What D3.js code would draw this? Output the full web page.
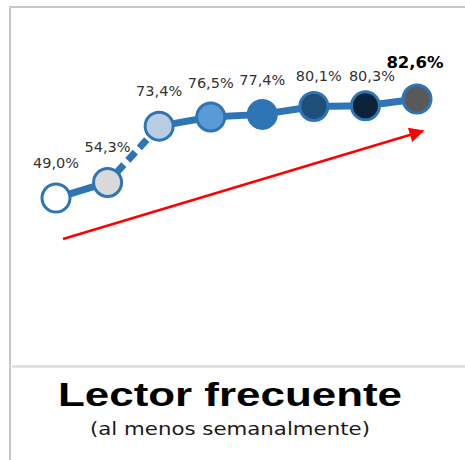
<!DOCTYPE html>
<html lang="es">
<head>
<meta charset="utf-8">
<script src="https://cdn.jsdelivr.net/npm/d3@7"></script>
<style>
  html, body { margin: 0; padding: 0; background: #fff; }
  svg { display: block; }
</style>
</head>
<body>
<div id="chart"></div>
<script>
// Share of frequent readers (at least weekly), one point per survey wave
const waves = ["W1", "W2", "W3", "W4", "W5", "W6", "W7", "W8"];
const share = [49.0, 54.3, 73.4, 76.5, 77.4, 80.1, 80.3, 82.6];
const valueLabels = ["49,0%", "54,3%", "73,4%", "76,5%", "77,4%", "80,1%", "80,3%", "82,6%"];
const titleText = "Lector frecuente";
const subtitleText = "(al menos semanalmente)";

// Marker fills, from empty to darkest, last one grey
const fills = ["#ffffff", "#d9d9d9", "#b8cce4", "#5b9bd5", "#2e75b6", "#1f4e79", "#0c2238", "#595959"];
// Small nudges for labels that would otherwise crowd each other
const labelNudge = [[0, -30], [0, -30], [0, -30], [0, -29], [0, -29.5], [5, -25], [6.5, -25], [-2, -31]];

const W = 465, H = 460;
const blue = "#2e75b6";

const svg = d3.select("#chart").append("svg")
  .attr("width", W).attr("height", H);

// Frame lines
svg.append("line").attr("x1", 10).attr("x2", W).attr("y1", 7).attr("y2", 7)
  .attr("stroke", "#c8c8c8").attr("stroke-width", 2);
svg.append("line").attr("x1", 10).attr("x2", 10).attr("y1", 6).attr("y2", H)
  .attr("stroke", "#c8c8c8").attr("stroke-width", 2);
svg.append("line").attr("x1", 12).attr("x2", W).attr("y1", 366.5).attr("y2", 366.5)
  .attr("stroke", "#dcdcdc").attr("stroke-width", 2.5);

const x = d3.scalePoint().domain(waves).range([56, 417]);
const y = d3.scaleLinear().domain([0, 100]).range([342.4, 47.8]);

const pts = waves.map((w, i) => ({ w, v: share[i], i }));

// Trend arrow
const defs = svg.append("defs");
defs.append("marker")
  .attr("id", "arrowHead")
  .attr("viewBox", "0 0 10 10")
  .attr("refX", 9).attr("refY", 5)
  .attr("markerUnits", "userSpaceOnUse")
  .attr("markerWidth", 17).attr("markerHeight", 15)
  .attr("orient", "auto")
  .append("path").attr("d", "M0,0 L10,5 L0,10 Z").attr("fill", "#ff0000");

svg.append("line")
  .attr("x1", 63).attr("y1", 239)
  .attr("x2", 423).attr("y2", 131)
  .attr("stroke", "#ff0000").attr("stroke-width", 2.5)
  .attr("marker-end", "url(#arrowHead)");

// Connecting segments; the jump between the 2nd and 3rd wave is dashed
const segs = d3.pairs(pts);
svg.append("g").selectAll("line").data(segs).join("line")
  .attr("x1", d => x(d[0].w)).attr("y1", d => y(d[0].v))
  .attr("x2", d => x(d[1].w)).attr("y2", d => y(d[1].v))
  .attr("stroke", blue)
  .attr("stroke-width", 7)
  .attr("stroke-dasharray", d => d[0].i === 1 ? "11,6" : null)
  .attr("stroke-dashoffset", d => d[0].i === 1 ? 4 : null);

// Markers
svg.append("g").selectAll("circle").data(pts).join("circle")
  .attr("cx", d => x(d.w)).attr("cy", d => y(d.v))
  .attr("r", 14)
  .attr("fill", d => fills[d.i])
  .attr("stroke", blue)
  .attr("stroke-width", 3);

// Value labels
svg.append("g").selectAll("text").data(pts).join("text")
  .attr("x", d => x(d.w) + labelNudge[d.i][0])
  .attr("y", d => y(d.v) + labelNudge[d.i][1])
  .attr("text-anchor", "middle")
  .attr("font-family", "'DejaVu Sans', Verdana, sans-serif")
  .attr("font-size", d => d.i === pts.length - 1 ? 16.5 : 14.5)
  .attr("font-weight", d => d.i === pts.length - 1 ? "bold" : "normal")
  .attr("fill", d => d.i === pts.length - 1 ? "#000" : "#333")
  .text(d => valueLabels[d.i]);

// Title block
svg.append("text")
  .attr("x", 230).attr("y", 406)
  .attr("text-anchor", "middle")
  .attr("font-family", "'Liberation Sans', Arial, sans-serif")
  .attr("font-weight", "bold")
  .attr("font-size", 34)
  .attr("textLength", 344)
  .attr("lengthAdjust", "spacingAndGlyphs")
  .attr("fill", "#000")
  .text(titleText);

svg.append("text")
  .attr("x", 230).attr("y", 435)
  .attr("text-anchor", "middle")
  .attr("font-family", "'DejaVu Sans', Verdana, sans-serif")
  .attr("font-size", 17)
  .attr("textLength", 280)
  .attr("lengthAdjust", "spacingAndGlyphs")
  .attr("fill", "#1a1a1a")
  .text(subtitleText);
</script>
</body>
</html>
